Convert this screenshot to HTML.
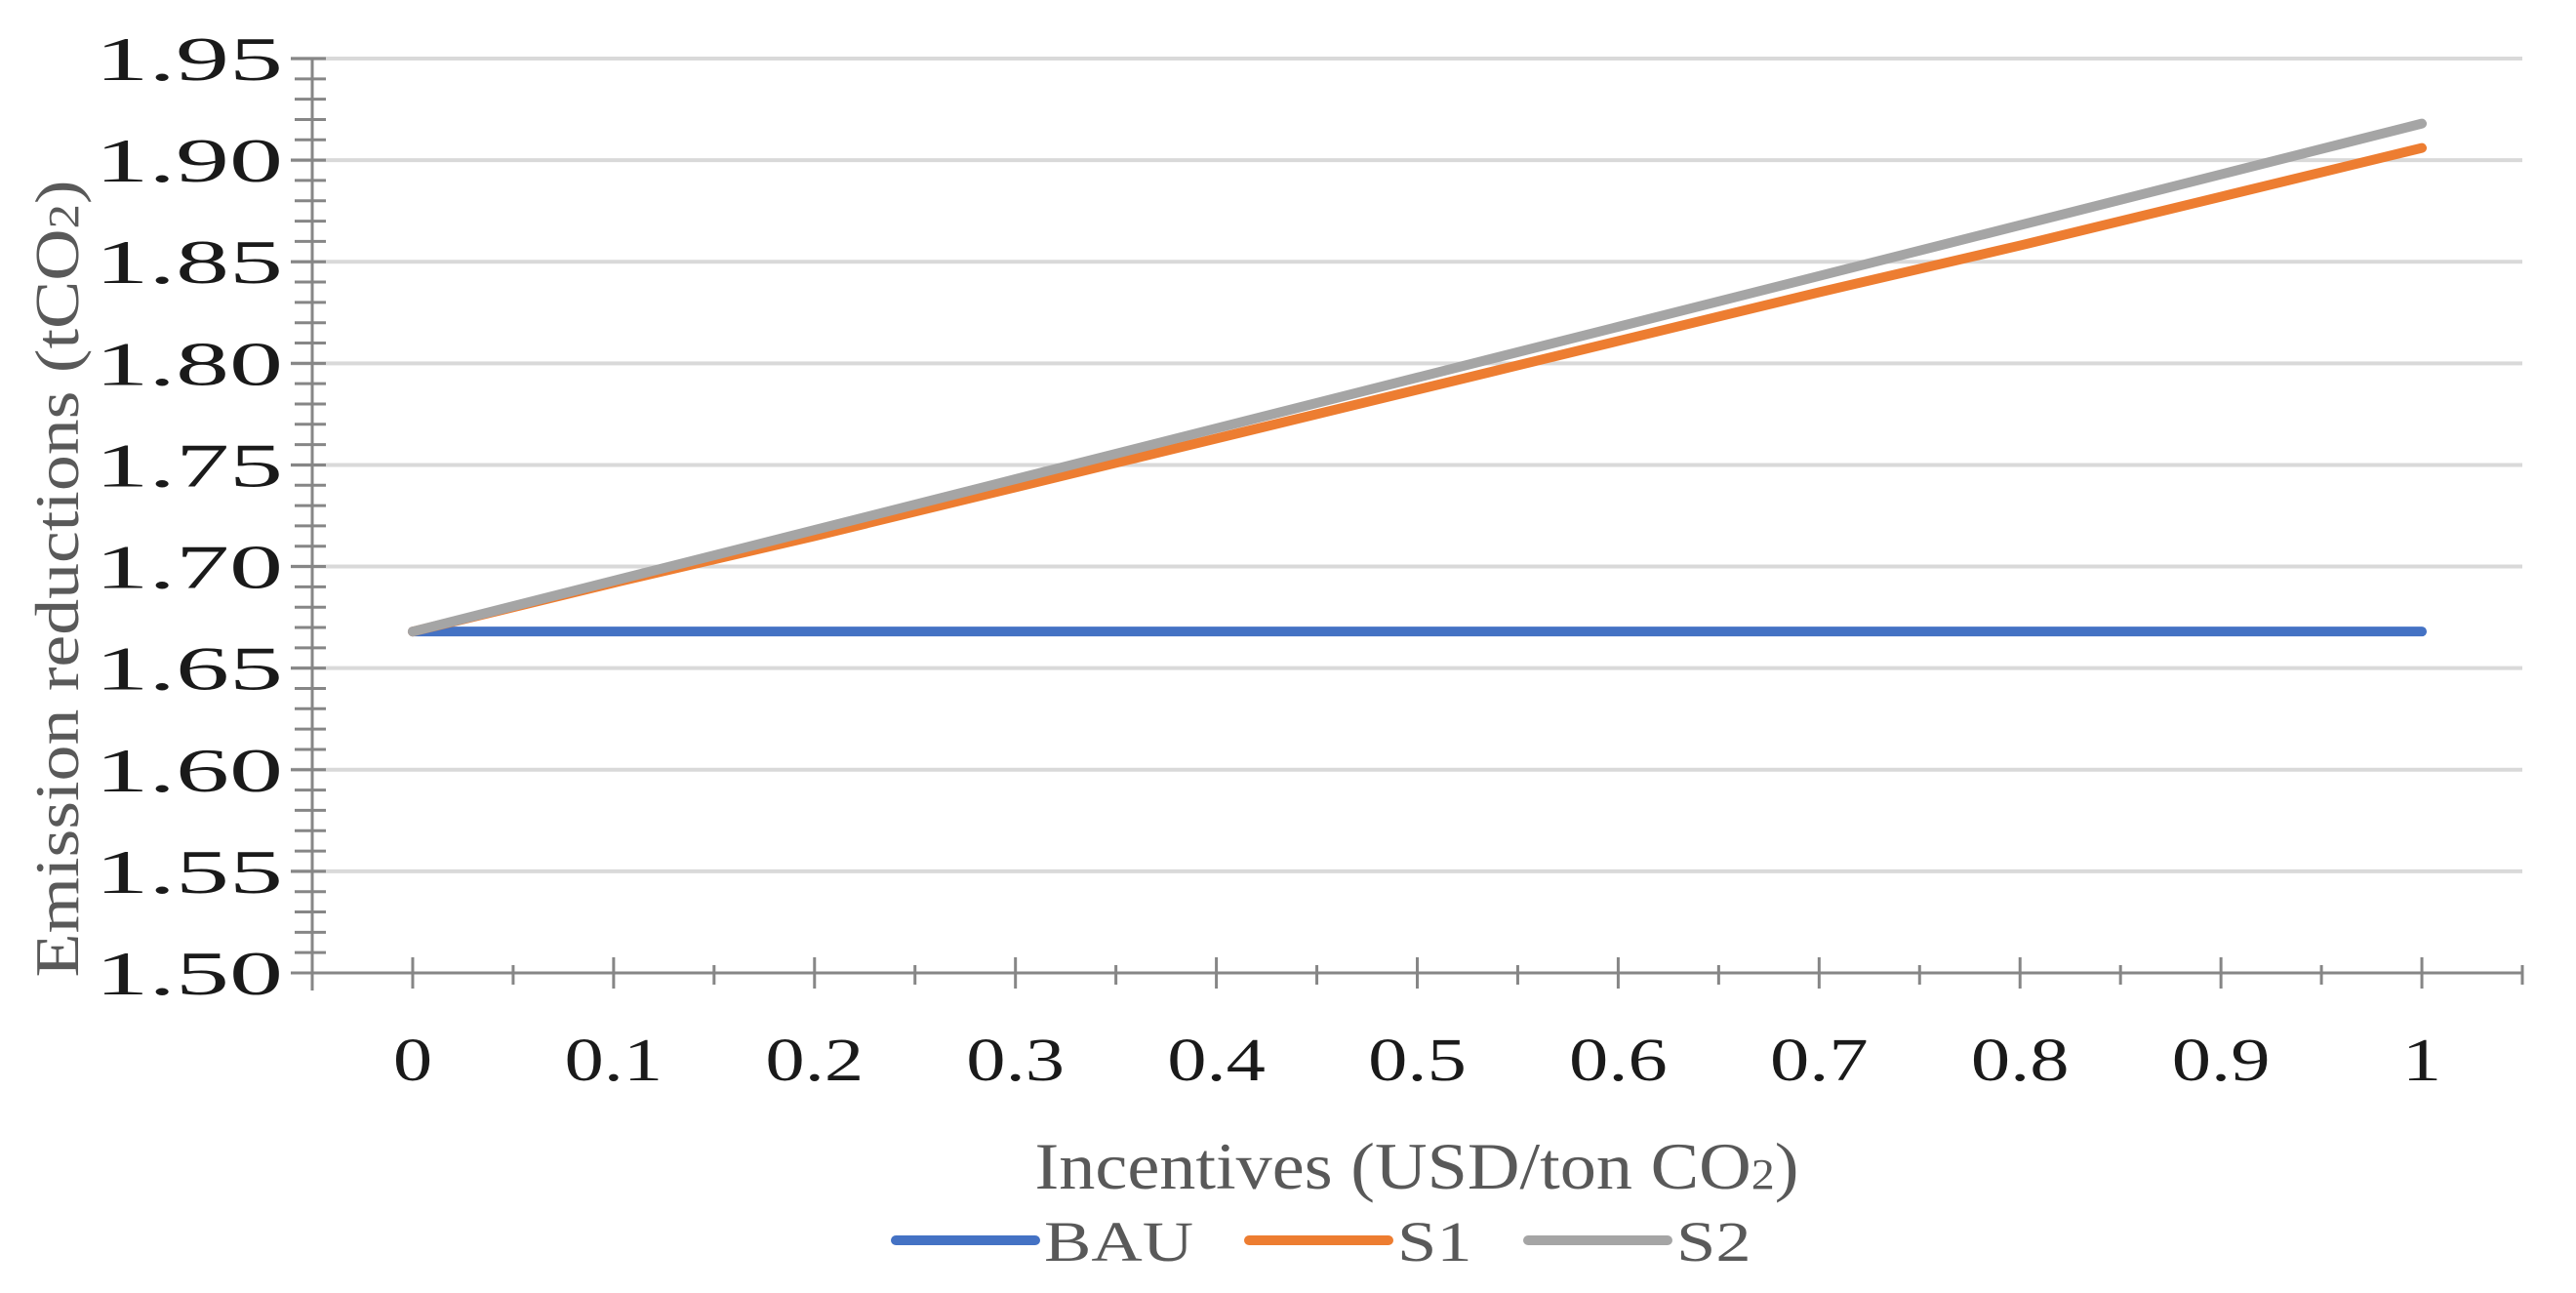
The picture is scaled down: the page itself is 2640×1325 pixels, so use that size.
<!DOCTYPE html>
<html><head><meta charset="utf-8"><style>
html,body{margin:0;padding:0;background:#fff;}
svg{display:block;}
text{font-family:"Liberation Serif",serif;}
</style></head><body>
<svg id="chart" width="2640" height="1325" viewBox="0 0 2640 1325" xmlns="http://www.w3.org/2000/svg">
<g id="grid"></g>
<g id="axes"></g>
<g id="series"></g>
<text transform="translate(80,593) rotate(-90)" text-anchor="middle" font-size="64" fill="#595959" textLength="817" lengthAdjust="spacingAndGlyphs">Emission reductions (tCO<tspan font-size="44">2</tspan>)</text>
<text x="1452" y="1218" text-anchor="middle" font-size="68" fill="#595959" textLength="783" lengthAdjust="spacingAndGlyphs">Incentives (USD/ton CO<tspan font-size="44">2</tspan>)</text>
<g id="legend"></g>
</svg>
<script>
const xCats = [0,0.1,0.2,0.3,0.4,0.5,0.6,0.7,0.8,0.9,1];
const xLabels = ["0","0.1","0.2","0.3","0.4","0.5","0.6","0.7","0.8","0.9","1"];
const bau = [1.668,1.668,1.668,1.668,1.668,1.668,1.668,1.668,1.668,1.668,1.668];
const s1 = [1.668,1.692,1.715,1.739,1.763,1.787,1.811,1.835,1.858,1.882,1.906];
const s2 = [1.668,1.693,1.718,1.743,1.768,1.793,1.818,1.843,1.868,1.893,1.918];
const yTicks = [1.50,1.55,1.60,1.65,1.70,1.75,1.80,1.85,1.90,1.95];
const seriesNames = ["BAU","S1","S2"];
const seriesColors = ["#4472c4","#ed7d31","#a5a5a5"];

const X0=320,X1=2585,Y0=997,Y1=60;
const xs=v=>X0+(v+0.05)/1.1*(X1-X0);
const ys=v=>Y0-(v-1.5)/0.45*(Y0-Y1);
const NS="http://www.w3.org/2000/svg";
function mk(tag,attrs,parent){const e=document.createElementNS(NS,tag);for(const k in attrs)e.setAttribute(k,attrs[k]);parent.appendChild(e);return e;}
const grid=document.getElementById('grid'),axes=document.getElementById('axes'),ser=document.getElementById('series'),leg=document.getElementById('legend');

yTicks.forEach(t=>{
  const y=ys(t);
  if(t>1.5){const g=mk('line',{x1:298,x2:X1,y1:y,y2:y,stroke:'#d9d9d9','stroke-width':4},grid);
  
  }
  const lb=mk('text',{x:0,y:0,'text-anchor':'end','font-size':64,fill:'#1a1a1a',transform:`translate(290,${y+22}) scale(1.72,1)`},axes);
  lb.textContent=t.toFixed(2);
  
  
});
for(let i=0;i<=45;i++){
  const v=1.5+i*0.01,y=ys(v);
  const tk=mk('line',{x1:(i%5===0)?298:302,x2:334,y1:y,y2:y,stroke:'#868686','stroke-width':3},axes);
  
  
}
const ya=mk('line',{x1:X0,x2:X0,y1:Y1,y2:Y0+18,stroke:'#868686','stroke-width':3},axes);


const xa=mk('line',{x1:298,x2:X1,y1:Y0,y2:Y0,stroke:'#868686','stroke-width':3},axes);


for(let i=0;i<=22;i++){
  const v=-0.05+i*0.05,x=xs(v);
  const tk=mk('line',{x1:x,x2:x,y1:(i%2===1)?Y0-16:Y0-8,y2:Y0+(i%2===1?16:12),stroke:'#868686','stroke-width':3},axes);
  
  
}
xCats.forEach((c,i)=>{
  const lb=mk('text',{x:0,y:0,'text-anchor':'middle','font-size':62,fill:'#1a1a1a',transform:`translate(${xs(c)},1107) scale(1.3,1)`},axes);
  lb.textContent=xLabels[i];
  
  
});
[bau,s1,s2].forEach((arr,si)=>{
  const pts=arr.map((v,i)=>xs(xCats[i])+','+ys(v)).join(' ');
  const pl=mk('polyline',{points:pts,fill:'none',stroke:seriesColors[si],'stroke-width':10,'stroke-linecap':'round','stroke-linejoin':'round'},ser);
  
  
});
const legX=[918,1280,1566];
seriesNames.forEach((n,i)=>{
  const g=mk('g',{},leg);
  
  
  mk('line',{x1:legX[i],x2:legX[i]+143,y1:1271,y2:1271,stroke:seriesColors[i],'stroke-width':10,'stroke-linecap':'round'},g);
  const t=mk('text',{x:0,y:0,'font-size':58,fill:'#595959',transform:`translate(${legX[i]+152},1292) scale(1.25,1)`},g);
  t.textContent=n;
});
</script>
</body></html>
